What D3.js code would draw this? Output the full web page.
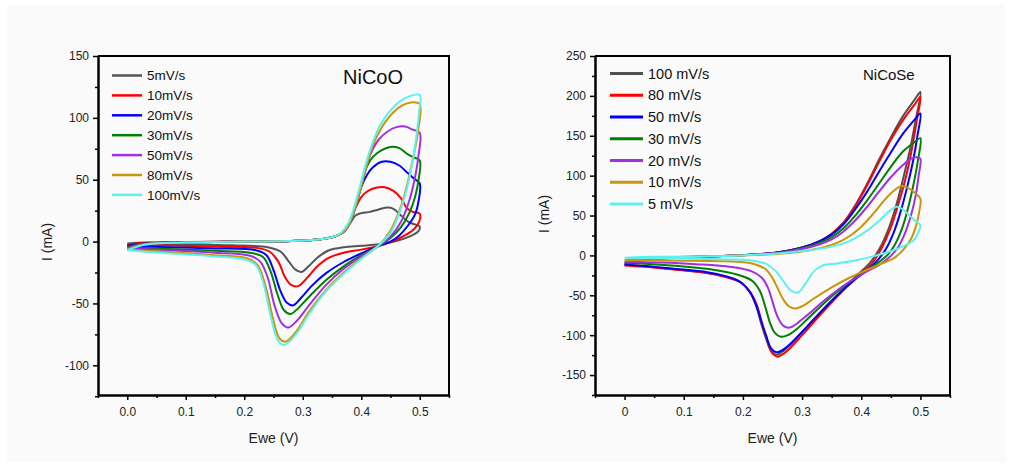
<!DOCTYPE html>
<html>
<head>
<meta charset="utf-8">
<script src="https://cdn.jsdelivr.net/npm/d3@7"></script>
<style>
  body { margin: 0; background: #fff; }
  svg { display: block; font-family: 'Liberation Sans', Arial, sans-serif; }
  .tick text { fill: #222; }
</style>
</head>
<body>
<div id="wrapper"></div>
<script>
// ---- NiCoO (left) : cyclic voltammograms, [E (V), I (mA)] ----
const nicooLabels = ['5mV/s', '10mV/s', '20mV/s', '30mV/s', '50mV/s', '80mV/s', '100mV/s'];
const nicooColors = ['#555555', '#ff0000', '#0000ff', '#008000', '#a030e0', '#c8960a', '#5cf0f0'];

const nicoo5 = [[0,-1.5],[0.03,-0.8],[0.1,-0.4],[0.2,0],[0.28,0.4],[0.32,1.5],[0.35,3.5],[0.37,8],[0.38,14],[0.39,21],[0.40,23],[0.415,24],[0.43,26],[0.445,27.5],[0.455,26.5],[0.468,21],[0.482,15.5],[0.5,12],
  [0.497,8],[0.482,4],[0.46,0.5],[0.43,-2.2],[0.4,-3.4],[0.37,-4.5],[0.345,-7],[0.325,-13],[0.31,-20],[0.298,-24.5],[0.287,-22.5],[0.276,-16],[0.262,-8],[0.24,-4.5],[0.18,-3],[0.1,-2.2],[0.03,-1.8],[0,-1.5]];
const nicoo10 = [[0,-2.5],[0.03,-1.2],[0.1,-0.5],[0.2,0],[0.28,0.4],[0.32,1.5],[0.35,3.5],[0.37,8],[0.38,15],[0.39,27],[0.40,36],[0.41,40.5],[0.425,43.5],[0.44,44],[0.455,41],[0.468,35],[0.478,27],[0.488,24],[0.5,22.5],
  [0.499,16],[0.49,10],[0.478,6],[0.46,1.5],[0.44,-2],[0.43,-3.5],[0.4,-6.5],[0.37,-9],[0.345,-13],[0.325,-20],[0.308,-29],[0.292,-36],[0.28,-35],[0.27,-29],[0.258,-16],[0.243,-8],[0.22,-5],[0.15,-4],[0.07,-3.2],[0,-2.5]];
const nicoo20 = [[0,-3.5],[0.03,-1.5],[0.1,-0.6],[0.2,0],[0.28,0.4],[0.32,1.5],[0.35,3.5],[0.37,8],[0.38,15],[0.39,28],[0.40,44],[0.41,54],[0.42,60],[0.435,64.5],[0.45,64.5],[0.465,61.5],[0.478,56],[0.49,51],[0.5,47],
  [0.498,33],[0.492,22],[0.48,13],[0.465,5],[0.45,0],[0.43,-3.5],[0.4,-9.5],[0.37,-16.5],[0.34,-25.5],[0.315,-36],[0.298,-45],[0.284,-51.5],[0.273,-49.5],[0.262,-40],[0.25,-23],[0.238,-11],[0.22,-7],[0.15,-5.5],[0.07,-4.5],[0,-3.5]];
const nicoo30 = [[0,-4.5],[0.03,-1.8],[0.1,-0.6],[0.2,0],[0.28,0.4],[0.32,1.5],[0.35,3.5],[0.37,8],[0.38,15],[0.39,28],[0.40,45],[0.41,61],[0.42,68.5],[0.435,74],[0.45,76.5],[0.465,75.5],[0.478,71],[0.49,68],[0.5,65.5],
  [0.498,50],[0.492,36],[0.482,23],[0.467,11],[0.45,3],[0.43,-3.5],[0.4,-11],[0.37,-20],[0.34,-31],[0.31,-45],[0.292,-54],[0.279,-58.5],[0.268,-55.5],[0.257,-43],[0.245,-24],[0.232,-12.5],[0.21,-9],[0.15,-7.5],[0.07,-6],[0,-4.5]];
const nicoo50 = [[0,-5.5],[0.03,-2],[0.1,-0.7],[0.2,0],[0.28,0.4],[0.32,1.5],[0.35,3.5],[0.37,8],[0.38,15],[0.39,28],[0.40,45],[0.41,63],[0.42,75],[0.43,82.5],[0.445,89],[0.46,92.5],[0.475,93],[0.488,90.5],[0.5,88],
  [0.498,70],[0.492,52],[0.482,33],[0.468,16],[0.45,4],[0.43,-3.5],[0.4,-12],[0.37,-22],[0.34,-35],[0.31,-52],[0.29,-64],[0.275,-69.5],[0.264,-66],[0.252,-52],[0.24,-29],[0.227,-16],[0.21,-11.5],[0.15,-9],[0.07,-7],[0,-5.5]];
const nicoo80 = [[0,-6.5],[0.03,-2.2],[0.1,-0.8],[0.2,0],[0.28,0.4],[0.32,1.5],[0.35,3.5],[0.37,8],[0.38,15],[0.39,28],[0.40,45],[0.41,63],[0.42,78],[0.43,88],[0.44,96],[0.455,104.5],[0.47,110],[0.485,112.5],[0.5,111],
  [0.498,92],[0.494,80],[0.487,64],[0.478,45],[0.466,26],[0.45,9],[0.43,-3],[0.4,-13.5],[0.37,-25],[0.34,-39],[0.31,-57],[0.29,-72],[0.27,-81],[0.26,-78],[0.249,-62],[0.237,-37],[0.223,-19],[0.205,-13.5],[0.15,-11],[0.07,-8.5],[0,-6.5]];
const nicoo100 = [[0,-7],[0.03,-2.5],[0.1,-0.8],[0.2,0],[0.28,0.4],[0.32,1.5],[0.35,3.5],[0.365,7],[0.378,15],[0.388,28],[0.398,45],[0.408,63],[0.418,78],[0.428,90],[0.44,100],[0.452,107],[0.465,113],[0.48,117],[0.5,118.5],
  [0.499,105],[0.495,88],[0.488,65],[0.478,43],[0.465,23],[0.45,7],[0.43,-3],[0.4,-14],[0.37,-26],[0.34,-40],[0.31,-59],[0.29,-74],[0.268,-83.5],[0.258,-80],[0.246,-62],[0.234,-36],[0.22,-19],[0.2,-14.5],[0.15,-12],[0.07,-9.5],[0,-7]];

// ---- NiCoSe (right) ----
const nicoseLabels = ['100 mV/s', '80 mV/s', '50 mV/s', '30 mV/s', '20 mV/s', '10 mV/s', '5 mV/s'];
const nicoseColors = ['#505050', '#ff0000', '#0000ff', '#008000', '#a030e0', '#c8960a', '#5cf0f0'];

const nicose100 = [[0,-12],[0.02,-7],[0.06,-4],[0.12,-2],[0.18,-0.5],[0.22,1],[0.26,4],[0.3,10],[0.33,18],[0.35,27],[0.37,41],[0.39,63],[0.41,90],[0.43,120],[0.45,148],[0.47,174],[0.49,195],[0.5,205],
  [0.492,170],[0.483,135],[0.472,100],[0.46,65],[0.447,35],[0.432,10],[0.415,-9],[0.39,-27],[0.36,-49],[0.33,-72],[0.3,-96],[0.28,-112],[0.266,-121],[0.256,-124.5],[0.247,-119],[0.239,-104],[0.231,-86],[0.222,-62],[0.212,-46],[0.195,-33],[0.17,-26],[0.13,-21],[0.08,-17],[0.03,-13.5],[0,-12]];
const nicose80 = [[0,-12.5],[0.02,-7.5],[0.06,-4],[0.12,-2],[0.18,-0.5],[0.22,1],[0.26,4],[0.3,10],[0.33,18],[0.35,27],[0.37,41],[0.39,62],[0.41,88],[0.43,117],[0.45,145],[0.47,169],[0.49,189],[0.5,199],
  [0.494,170],[0.486,135],[0.476,100],[0.463,65],[0.45,35],[0.435,10],[0.418,-10],[0.39,-28],[0.36,-51],[0.33,-75],[0.3,-100],[0.28,-116],[0.267,-124],[0.258,-127],[0.249,-122],[0.241,-106],[0.233,-88],[0.224,-63],[0.213,-47],[0.196,-34],[0.17,-27],[0.14,-22],[0.08,-17.5],[0.03,-14],[0,-12.5]];
const nicose50 = [[0,-11.5],[0.02,-7],[0.06,-4],[0.12,-2],[0.18,-0.5],[0.22,1],[0.26,4],[0.3,10],[0.33,18],[0.35,26],[0.37,39],[0.39,58],[0.41,80],[0.43,105],[0.45,129],[0.47,152],[0.49,170],[0.5,178],
  [0.495,150],[0.488,120],[0.479,90],[0.467,56],[0.455,29],[0.44,6],[0.42,-12],[0.39,-30],[0.36,-50],[0.33,-72],[0.3,-96],[0.28,-111],[0.266,-119],[0.256,-121.5],[0.247,-116],[0.239,-100],[0.231,-82],[0.222,-62],[0.212,-46],[0.195,-33],[0.17,-26],[0.14,-21],[0.08,-16.5],[0.03,-13],[0,-11.5]];
const nicose30 = [[0,-9.5],[0.02,-6],[0.06,-3.5],[0.12,-2],[0.18,-0.5],[0.22,1],[0.26,3.5],[0.3,9],[0.33,16],[0.35,23],[0.37,34],[0.39,50],[0.41,69],[0.43,90],[0.45,111],[0.47,130],[0.49,142],[0.5,147],
  [0.496,120],[0.49,95],[0.481,65],[0.47,36],[0.458,15],[0.445,1],[0.425,-11],[0.4,-23],[0.37,-39],[0.34,-58],[0.31,-79],[0.29,-93],[0.276,-100],[0.264,-102],[0.254,-97],[0.246,-85],[0.238,-65],[0.229,-45],[0.216,-32],[0.19,-24],[0.15,-18],[0.1,-14],[0.05,-11],[0,-9.5]];
const nicose20 = [[0,-8],[0.02,-5],[0.06,-3],[0.12,-1.5],[0.18,-0.5],[0.22,1],[0.26,3],[0.3,8],[0.33,14],[0.35,20],[0.37,30],[0.39,44],[0.41,61],[0.43,80],[0.45,98],[0.47,113],[0.485,121.5],[0.495,123],[0.5,121],
  [0.497,100],[0.492,75],[0.484,50],[0.474,28],[0.462,10],[0.448,-2],[0.43,-12],[0.4,-24],[0.37,-38],[0.34,-55],[0.31,-74],[0.292,-85],[0.279,-90.5],[0.268,-88],[0.258,-76],[0.25,-58],[0.242,-40],[0.232,-28],[0.215,-20],[0.18,-14.5],[0.12,-11],[0.06,-9],[0,-8]];
const nicose10 = [[0,-6],[0.02,-4],[0.06,-2.5],[0.12,-1.5],[0.18,-0.5],[0.22,0.5],[0.26,2],[0.3,5],[0.33,9],[0.36,16],[0.38,24],[0.4,36],[0.42,52],[0.44,70],[0.455,81],[0.467,86.6],[0.478,85],[0.49,79],[0.5,71],
  [0.498,55],[0.493,38],[0.485,22],[0.472,8],[0.456,-3],[0.435,-10],[0.41,-18],[0.38,-28],[0.35,-40],[0.32,-54],[0.302,-63],[0.289,-66.5],[0.278,-64],[0.268,-55],[0.258,-40],[0.248,-26],[0.238,-17],[0.22,-11],[0.19,-8],[0.12,-6.8],[0.05,-6.2],[0,-6]];
const nicose5 = [[0,-3],[0.03,-2],[0.08,-1.7],[0.15,-1.2],[0.2,0],[0.25,2],[0.3,5.5],[0.35,11],[0.38,18],[0.41,31],[0.43,43],[0.445,54],[0.46,61],[0.47,58],[0.48,51],[0.49,44],[0.5,38],
  [0.497,30],[0.49,20],[0.47,11],[0.44,3],[0.42,-1],[0.39,-6.5],[0.36,-10],[0.335,-12.5],[0.32,-20],[0.306,-35],[0.293,-46.5],[0.281,-44],[0.269,-33],[0.256,-20],[0.24,-11],[0.22,-7],[0.18,-5],[0.12,-4.2],[0.05,-3.5],[0,-3]];

// axis ticks
const xMajor = [0, 0.1, 0.2, 0.3, 0.4, 0.5];
const xMinor = [-0.05, 0.05, 0.15, 0.25, 0.35, 0.45, 0.55];
const nicooYMajor = [-100, -50, 0, 50, 100, 150];
const nicooYMinor = [-125, -75, -25, 25, 75, 125];
const nicoseYMajor = [-150, -100, -50, 0, 50, 100, 150, 200, 250];
const nicoseYMinor = [-175, -125, -75, -25, 25, 75, 125, 175, 225];

const svg = d3.select('#wrapper').append('svg').attr('width', 1013).attr('height', 468);
svg.append('rect').attr('x', 7).attr('y', 5).attr('width', 999).attr('height', 457).attr('fill', '#fafafa');

function drawPanel(p) {
	const x = d3.scaleLinear().domain([-0.05, 0.55]).range([p.left, p.right]);
	const y = d3.scaleLinear().domain(p.yDomain).range([395, 56]);
	const g = svg.append('g');

	// frame (top, right)
	g.append('path')
		.attr('d', `M${p.left},${y.range()[1]}H${p.right}V${y.range()[0]}`)
		.attr('fill', 'none').attr('stroke', '#000').attr('stroke-width', 2);

	const styleAxis = (sel) => {
		sel.select('.domain').attr('stroke', '#000').attr('stroke-width', 2);
		sel.selectAll('line').attr('stroke', '#000').attr('stroke-width', 1.5);
		sel.selectAll('text').attr('font-size', p.tickFont).attr('font-family', 'Liberation Sans, Arial, sans-serif');
	};

	g.append('g').attr('transform', `translate(0,${y.range()[0]})`)
		.call(d3.axisBottom(x).tickValues(xMinor).tickSize(3).tickSizeOuter(0).tickFormat(''))
		.call(styleAxis);
	g.append('g').attr('transform', `translate(0,${y.range()[0]})`)
		.call(d3.axisBottom(x).tickValues(xMajor).tickSize(5).tickSizeOuter(0).tickPadding(7).tickFormat(p.xFormat))
		.call(styleAxis);
	g.append('g').attr('transform', `translate(${p.left},0)`)
		.call(d3.axisLeft(y).tickValues(p.yMinor).tickSize(3).tickSizeOuter(0).tickFormat(''))
		.call(styleAxis);
	// plain hyphen for negatives, as in the original figure
	g.append('g').attr('transform', `translate(${p.left},0)`)
		.call(d3.axisLeft(y).tickValues(p.yMajor).tickSize(5).tickSizeOuter(0).tickPadding(4).tickFormat((d) => String(d)))
		.call(styleAxis);

	// axis titles
	g.append('text').attr('x', (x(0) + x(0.5)) / 2).attr('y', 443).attr('text-anchor', 'middle')
		.attr('font-size', 14).attr('fill', '#222').text('Ewe (V)');
	g.append('text').attr('transform', `translate(${p.yLabelX},${p.yLabelY}) rotate(-90)`).attr('text-anchor', 'middle')
		.attr('font-size', 14).attr('fill', '#222').text('I (mA)');

	// curves
	const line = d3.line().x((d) => x(d[0])).y((d) => y(d[1])).curve(d3.curveCatmullRom.alpha(0.5));
	p.drawOrder.forEach((i) => {
		g.append('path').datum(p.series[i]).attr('d', line)
			.attr('fill', 'none').attr('stroke', p.colors[i]).attr('stroke-width', 2)
			.attr('stroke-linejoin', 'round');
	});

	// legend
	p.labels.forEach((label, i) => {
		const ly = p.legendY + i * p.legendStep;
		g.append('line').attr('x1', p.legendX).attr('x2', p.legendX + p.legendLen).attr('y1', ly).attr('y2', ly)
			.attr('stroke', p.colors[i]).attr('stroke-width', p.legendStroke);
		g.append('text').attr('x', p.legendX + p.legendLen + 5).attr('y', ly).attr('dy', '0.35em')
			.attr('font-size', p.legendFont).attr('fill', '#111').text(label);
	});

	g.append('text').attr('x', p.titleX).attr('y', p.titleY).attr('font-size', p.titleFont)
		.attr('fill', '#111').text(p.title);
}

drawPanel({
	left: 98, right: 449, yDomain: [-124, 150],
	yMajor: nicooYMajor, yMinor: nicooYMinor,
	xFormat: d3.format('.1f'), tickFont: 12,
	yLabelX: 52, yLabelY: 242,
	series: [nicoo5, nicoo10, nicoo20, nicoo30, nicoo50, nicoo80, nicoo100],
	colors: nicooColors, labels: nicooLabels, drawOrder: [0, 1, 2, 3, 4, 5, 6],
	legendX: 112, legendY: 75.5, legendStep: 19.9, legendLen: 30, legendStroke: 2.5, legendFont: 13.5,
	title: 'NiCoO', titleX: 343, titleY: 84, titleFont: 20
});

drawPanel({
	left: 595, right: 950, yDomain: [-175, 250],
	yMajor: nicoseYMajor, yMinor: nicoseYMinor,
	xFormat: d3.format(''), tickFont: 12,
	yLabelX: 549, yLabelY: 214,
	series: [nicose100, nicose80, nicose50, nicose30, nicose20, nicose10, nicose5],
	colors: nicoseColors, labels: nicoseLabels, drawOrder: [0, 1, 2, 3, 4, 5, 6],
	legendX: 610, legendY: 73.5, legendStep: 21.75, legendLen: 33, legendStroke: 3, legendFont: 14.5,
	title: 'NiCoSe', titleX: 863, titleY: 80, titleFont: 15
});
</script>
</body>
</html>
